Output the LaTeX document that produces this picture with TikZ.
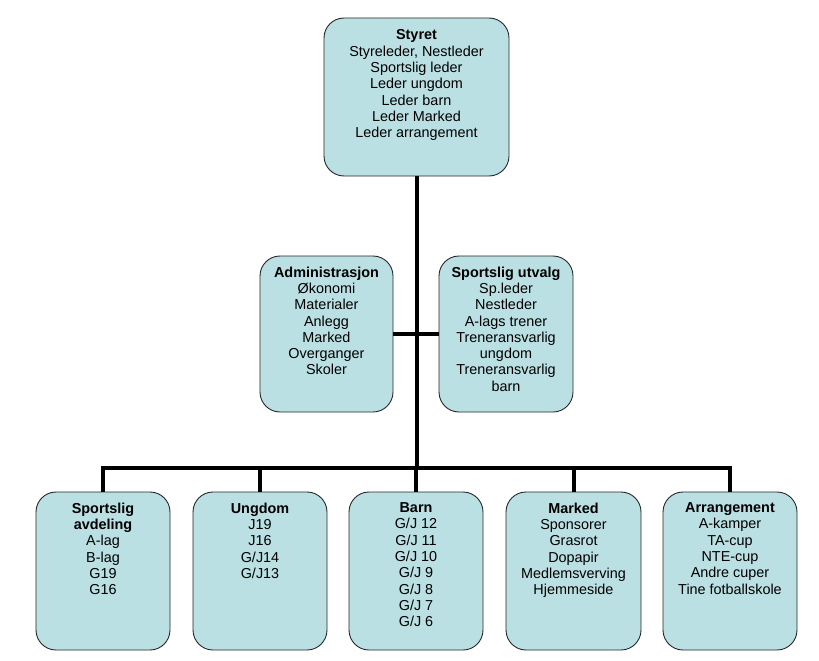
\documentclass[tikz,border=0pt]{standalone}
\usepackage{fontspec}
\setmainfont{Liberation Sans}
\definecolor{boxfill}{RGB}{187,224,227}
\begin{document}
\begin{tikzpicture}[x=1pt,y=-1pt,
  orgbox/.style={draw=black!85, line width=0.9pt, fill=boxfill, rounded corners=20pt,
    minimum width=#1, inner sep=0pt},
  boxtext/.style={anchor=north, align=center, inner sep=0pt, font=\fontsize{14.4}{16.3}\selectfont},
  conn/.style={line width=4pt, line join=miter}]
\useasboundingbox (0,0) rectangle (819,661);
% top
\node[orgbox=185pt, minimum height=158pt] (styret) at (416.5,97) {};
\node[boxtext, yshift=-12pt] (styrett) at (styret.north)
  {\textbf{Styret}\\Styreleder, Nestleder\\Sportslig leder\\Leder ungdom\\Leder barn\\Leder Marked\\Leder arrangement};
% middle
\node[orgbox=133pt, minimum height=156pt] (admin) at (326.5,334) {};
\node[boxtext, yshift=-11pt] (admint) at (admin.north)
  {\textbf{Administrasjon}\\Økonomi\\Materialer\\Anlegg\\Marked\\Overganger\\Skoler};
\node[orgbox=134pt, minimum height=156pt] (utvalg) at (506,334) {};
\node[boxtext, yshift=-11pt] (utvalgt) at (utvalg.north)
  {\textbf{Sportslig utvalg}\\Sp.leder\\Nestleder\\A-lags trener\\Treneransvarlig\\ungdom\\Treneransvarlig\\barn};
% bottom
\node[orgbox=134pt, minimum height=158pt] (sport) at (103,571) {};
\node[boxtext, yshift=-11pt] (sportt) at (sport.north)
  {\textbf{Sportslig}\\\textbf{avdeling}\\A-lag\\B-lag\\G19\\G16};
\node[orgbox=134pt, minimum height=158pt] (ungdom) at (260,571) {};
\node[boxtext, yshift=-11pt] (ungdomt) at (ungdom.north)
  {\textbf{Ungdom}\\J19\\J16\\G/J14\\G/J13};
\node[orgbox=134pt, minimum height=158pt] (barn) at (416,571) {};
\node[boxtext, yshift=-11pt] (barnt) at (barn.north)
  {\textbf{Barn}\\G/J 12\\G/J 11\\G/J 10\\G/J 9\\G/J 8\\G/J 7\\G/J 6};
\node[orgbox=135pt, minimum height=158pt] (marked) at (573.5,571) {};
\node[boxtext, yshift=-11pt] (markedt) at (marked.north)
  {\textbf{Marked}\\Sponsorer\\Grasrot\\Dopapir\\Medlemsverving\\Hjemmeside};
\node[orgbox=134pt, minimum height=158pt] (arr) at (730,571) {};
\node[boxtext, yshift=-11pt] (arrt) at (arr.north)
  {\textbf{Arrangement}\\A-kamper\\TA-cup\\NTE-cup\\Andre cuper\\Tine fotballskole};
% connectors
\coordinate (busy) at (0,468);
\draw[conn] (styret.south) -- (styret.south |- busy);
\draw[conn] (admin.east) -- (utvalg.west);
\draw[conn] (sport.north) -- (sport.north |- busy) -- (arr.north |- busy) -- (arr.north);
\draw[conn] (ungdom.north) -- (ungdom.north |- busy);
\draw[conn] (barn.north) -- (barn.north |- busy);
\draw[conn] (marked.north) -- (marked.north |- busy);
\end{tikzpicture}
\end{document}
